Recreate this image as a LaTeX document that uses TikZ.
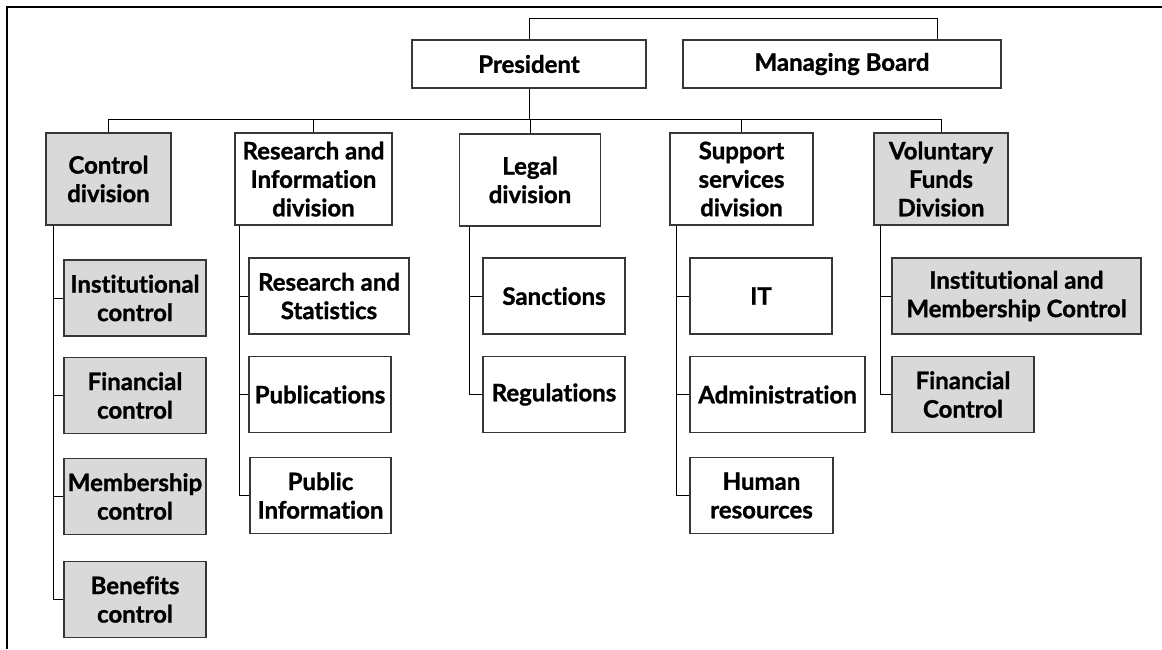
\documentclass[tikz,border=0pt]{standalone}
\usepackage{fontspec}
\setmainfont{Lato}[Ligatures=NoCommon, BoldFeatures={FakeBold=1.2}]
\definecolor{box_gray}{RGB}{217,217,217}
\definecolor{edge_gray}{RGB}{55,55,55}

\begin{document}
\begin{tikzpicture}[x=1pt,y=-1pt,line width=0.8pt]
    \tikzstyle{box}=[draw=edge_gray, line width=1.1pt, rectangle, align=center, inner sep=2pt, text=black, font=\fontsize{24}{28.5}\selectfont\bfseries]
    \tikzstyle{headbox}=[style=box, minimum height=48pt]
    \tikzstyle{divbox}=[style=box, minimum height=92pt]
    \tikzstyle{subbox}=[style=box, minimum height=76pt]
    \tikzstyle{shaded}=[fill=box_gray]

    \useasboundingbox (0,0) rectangle (1162,649);
    \draw[line width=1.6pt] (7,649) -- (7,7) -- (1162,7);

    % top level
    \node[headbox, minimum width=234pt] (pres)  at (529,64) {President};
    \node[headbox, minimum width=318pt] (board) at (842,64) {Managing Board};

    % divisions
    \node[divbox, shaded, minimum width=125pt] (ctrl)    at (108.5,179) {Control\\division};
    \node[divbox, minimum width=157pt]         (resinfo) at (313.5,179) {Research and\\Information\\division};
    \node[divbox, minimum width=141pt]         (legal)   at (530,180)   {Legal\\division};
    \node[divbox, minimum width=143pt]         (support) at (741.5,179) {Support\\services\\division};
    \node[divbox, shaded, minimum width=134pt] (vol)     at (941,179)   {Voluntary\\Funds\\Division};

    % control division
    \node[subbox, shaded, minimum width=142pt] (inst) at (135,298)   {Institutional\\control};
    \node[subbox, shaded, minimum width=142pt] (fin)  at (135,395.5) {Financial\\control};
    \node[subbox, shaded, minimum width=142pt] (memb) at (135,496.5) {Membership\\control};
    \node[subbox, shaded, minimum width=142pt] (ben)  at (135,599.5) {Benefits\\control};

    % research and information division
    \node[subbox, minimum width=160pt] (resstat) at (329,296)   {Research and\\Statistics};
    \node[subbox, minimum width=142pt] (pubs)    at (320,394.5) {Publications};
    \node[subbox, minimum width=141pt] (pubinfo) at (320.5,495.5) {Public\\Information};

    % legal division
    \node[subbox, minimum width=142pt] (sanc) at (554,296)   {Sanctions};
    \node[subbox, minimum width=142pt] (regs) at (554,394.5) {Regulations};

    % support services division
    \node[subbox, minimum width=142pt] (it)    at (761,296)     {IT};
    \node[subbox, minimum width=175pt] (admin) at (777.5,394.5) {Administration};
    \node[subbox, minimum width=143pt] (hr)    at (761.5,495.5) {Human\\resources};

    % voluntary funds division
    \node[subbox, shaded, minimum width=249pt] (imc)  at (1016.5,296) {Institutional and\\Membership Control};
    \node[subbox, shaded, minimum width=142pt] (finc) at (963,394.5)  {Financial\\Control};

    \coordinate (ridge) at (0,18);
    \coordinate (bus)   at (0,119);
    \coordinate (bjoin) at ([xshift=-64pt]board.north east);

    \draw (pres.north) |- (bjoin |- ridge) -- (bjoin);
    \draw (pres.south) -- (pres.south |- bus);
    \draw (ctrl.north) |- (vol.north |- bus) -- (vol.north);
    \foreach \d in {resinfo,legal,support}
        \draw (\d.north) -- (\d.north |- bus);

    \coordinate (cspine) at ([xshift=8pt]ctrl.south west);
    \coordinate (rspine) at ([xshift=5pt]resinfo.south west);
    \coordinate (lspine) at ([xshift=10pt]legal.south west);
    \coordinate (sspine) at ([xshift=7pt]support.south west);
    \coordinate (vspine) at ([xshift=7pt]vol.south west);

    \draw (cspine) |- (ben.west);
    \foreach \n in {inst,fin,memb}
        \draw (\n.west) -- (\n.west -| cspine);
    \draw (rspine) |- (pubinfo.west);
    \foreach \n in {resstat,pubs}
        \draw (\n.west) -- (\n.west -| rspine);
    \draw (lspine) |- (regs.west);
    \draw (sanc.west) -- (sanc.west -| lspine);
    \draw (sspine) |- (hr.west);
    \foreach \n in {it,admin}
        \draw (\n.west) -- (\n.west -| sspine);
    \draw (vspine) |- (finc.west);
    \draw (imc.west) -- (imc.west -| vspine);
\end{tikzpicture}
\end{document}
